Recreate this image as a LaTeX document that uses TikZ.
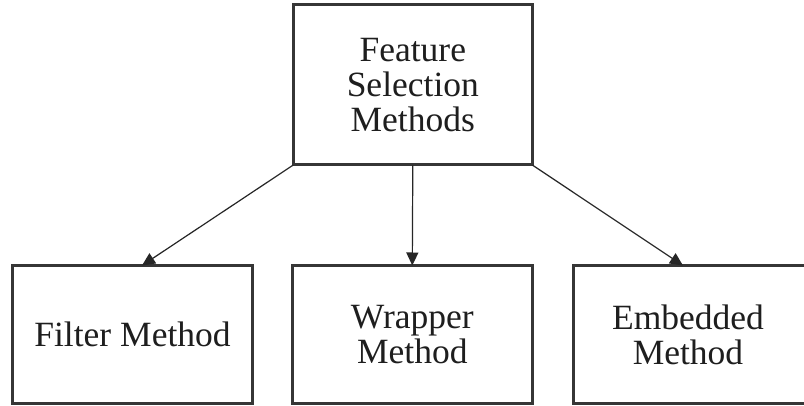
\documentclass[tikz,border=0pt]{standalone}
\usepackage{fontspec}
\setmainfont{Liberation Serif}
\usetikzlibrary{arrows.meta}
\definecolor{boxline}{HTML}{363636}
\definecolor{txt}{HTML}{1E1E1E}
\begin{document}
\begin{tikzpicture}[x=1pt,y=-1pt,
  boxtext/.style={inner sep=0pt, outer sep=0pt, align=center, text=txt, font=\fontsize{35.5}{35}\selectfont},
  box/.style={boxtext, draw=boxline, line width=3pt, rectangle},
  edge3/.style={draw=boxline, line width=3pt},
  arr/.style={draw=black!85, line width=1.2pt, -{Triangle[length=13pt,width=12pt]}}]
\useasboundingbox (0,0) rectangle (804,406);
\fill[white] (0,0) rectangle (804,406);
\node[box, minimum width=239pt, minimum height=160pt] (top) at (412.8,85) {Feature\\Selection\\Methods};
\node[box, minimum width=240pt, minimum height=138pt] (filter) at (132.5,334.5) {Filter Method};
\node[box, minimum width=240pt, minimum height=138pt] (wrapper) at (412.3,334.5) {Wrapper\\Method};
\node[boxtext, minimum width=250pt, minimum height=138pt] (embedded) at (698.5,334.5) {};
\draw[edge3] (embedded.north east) -- (embedded.north west) -- (embedded.south west) -- (embedded.south east);
\node[boxtext] (embeddedtext) at (688,334.5) {Embedded\\Method};
\coordinate (lt) at (142,265.5);
\coordinate (rt) at (683,265.5);
\draw[arr] (top.south west) -- (lt);
\draw[arr] (top.south) -- (wrapper.north);
\draw[arr] (top.south east) -- (rt);
\end{tikzpicture}
\end{document}
